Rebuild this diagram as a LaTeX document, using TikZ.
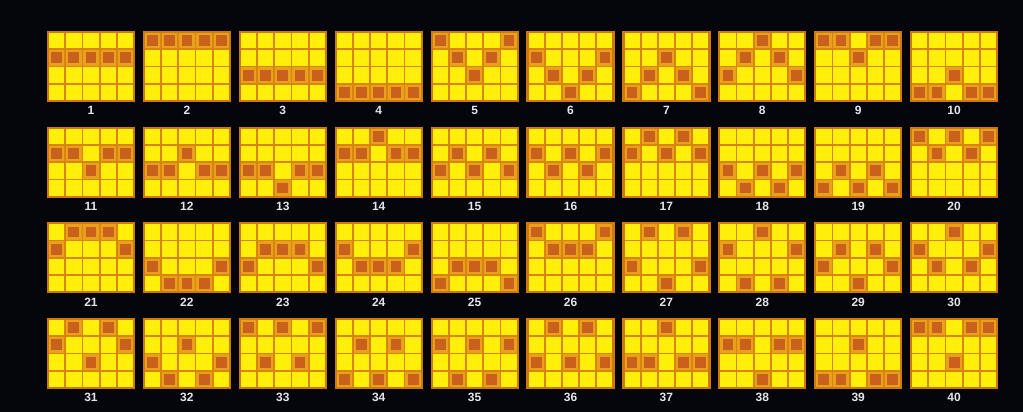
\documentclass[tikz,border=0pt]{standalone}
\usepackage{fontspec}
\setmainfont{Liberation Sans}
\definecolor{bg}{HTML}{05060C}
\definecolor{cellyellow}{HTML}{FFEF0A}
\definecolor{gridorange}{HTML}{DA8410}
\definecolor{borderorange}{HTML}{D07810}
\definecolor{hlout}{HTML}{E9A01C}
\definecolor{hlin}{HTML}{C9611D}
\definecolor{lblcol}{HTML}{E4E4EC}
\tikzset{
  gridline/.style={draw=gridorange, line width=1.8pt},
  gridborder/.style={draw=borderorange, line width=2.2pt},
  lbl/.style={text=lblcol, font=\bfseries\fontsize{12}{13}\selectfont, inner sep=0pt, anchor=base},
}
\begin{document}
\begin{tikzpicture}[x=1pt,y=-1pt]
\fill[bg] (0,0) rectangle (1023,412);
\useasboundingbox (0,0) rectangle (1023,412);
\foreach \n/\ra/\rb/\rc/\rd/\re in {
 1/1/1/1/1/1, 2/0/0/0/0/0, 3/2/2/2/2/2, 4/3/3/3/3/3, 5/0/1/2/1/0,
 6/1/2/3/2/1, 7/3/2/1/2/3, 8/2/1/0/1/2, 9/0/0/1/0/0, 10/3/3/2/3/3,
 11/1/1/2/1/1, 12/2/2/1/2/2, 13/2/2/3/2/2, 14/1/1/0/1/1, 15/2/1/2/1/2,
 16/1/2/1/2/1, 17/1/0/1/0/1, 18/2/3/2/3/2, 19/3/2/3/2/3, 20/0/1/0/1/0,
 21/1/0/0/0/1, 22/2/3/3/3/2, 23/2/1/1/1/2, 24/1/2/2/2/1, 25/3/2/2/2/3,
 26/0/1/1/1/0, 27/2/0/3/0/2, 28/1/3/0/3/1, 29/2/1/3/1/2, 30/1/2/0/2/1,
 31/1/0/2/0/1, 32/2/3/1/3/2, 33/0/2/0/2/0, 34/3/1/3/1/3, 35/1/3/1/3/1,
 36/2/0/2/0/2, 37/2/2/0/2/2, 38/1/1/3/1/1, 39/3/3/1/3/3, 40/0/0/2/0/0}{
  \pgfmathtruncatemacro\col{mod(\n-1,10)}
  \pgfmathtruncatemacro\row{div(\n-1,10)}
  \pgfmathsetmacro\gx{48+95.9*\col}
  \pgfmathsetmacro\gy{32+95.67*\row}
  \begin{scope}[shift={(\gx,\gy)}]
    \fill[cellyellow] (0,0) rectangle (86,69);
    \foreach \cc/\rr in {0/\ra,1/\rb,2/\rc,3/\rd,4/\re}{
      \fill[hlout] (\cc*17.2,\rr*17.25) rectangle ++(17.2,17.25);
      \fill[hlin] (\cc*17.2+3.2,\rr*17.25+3.2) rectangle ++(10.8,10.85);
    }
    \foreach \xx in {1,...,4} \draw[gridline] (\xx*17.2,0) -- (\xx*17.2,69);
    \foreach \yy in {1,2,3} \draw[gridline] (0,\yy*17.25) -- (86,\yy*17.25);
    \draw[gridborder] (0,0) rectangle (86,69);
    \node[lbl] (l\n) at (43,82.8) {\n};
  \end{scope}
}
\end{tikzpicture}
\end{document}
